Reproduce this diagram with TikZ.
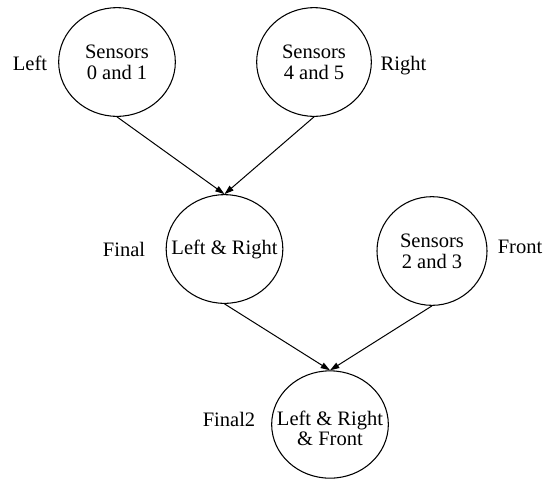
\documentclass[tikz,border=0pt]{standalone}
\usepackage{fontspec}
\setmainfont{Liberation Serif}
\usetikzlibrary{shapes.geometric, arrows.meta}

\begin{document}
\begin{tikzpicture}[x=0.75pt, y=-0.75pt, font=\rmfamily\fontsize{15.4pt}{15.5pt}\selectfont,
  main/.style = {draw, ellipse, line width=0.8pt, minimum width=87.5pt, minimum height=81.5pt},
  every label/.style = {align=center},
  tag/.style = {anchor=base},
  link/.style = {line width=0.75pt, -{Triangle[length=7pt, width=4.5pt]}}]
  \useasboundingbox (0,0) rectangle (545,480);
  \node[main, label={center:Sensors\\0 and 1}] (sens01) at (117,62) {};
  \node[main, minimum width=86pt, label={center:Sensors\\4 and 5}] (sens45) at (314,62) {};
  \node[main, label={center:Left \& Right}] (final) at (224.5,249) {};
  \node[main, minimum width=82.5pt, label={center:Sensors\\2 and 3}] (sens23) at (432,251) {};
  \node[main, minimum height=80.5pt, label={[yshift=-3pt]center:Left \& Right\\\& Front}] (final2) at (330,424.5) {};
  \node[tag] (leftname) at (30,70.5) {Left};
  \node[tag] (rightname) at (403.5,70) {Right};
  \node[tag] (finalname) at (124,256) {Final};
  \node[tag] (frontname) at (520,253) {Front};
  \node[tag] (final2name) at (229,426.5) {Final2};
  \draw[link] (sens01.south) to (final.north);
  \draw[link] (sens45.south) to (final.north);
  \draw[link] (final.south) to (final2.north);
  \draw[link] (sens23.south) to (final2.north);
\end{tikzpicture}
\end{document}
